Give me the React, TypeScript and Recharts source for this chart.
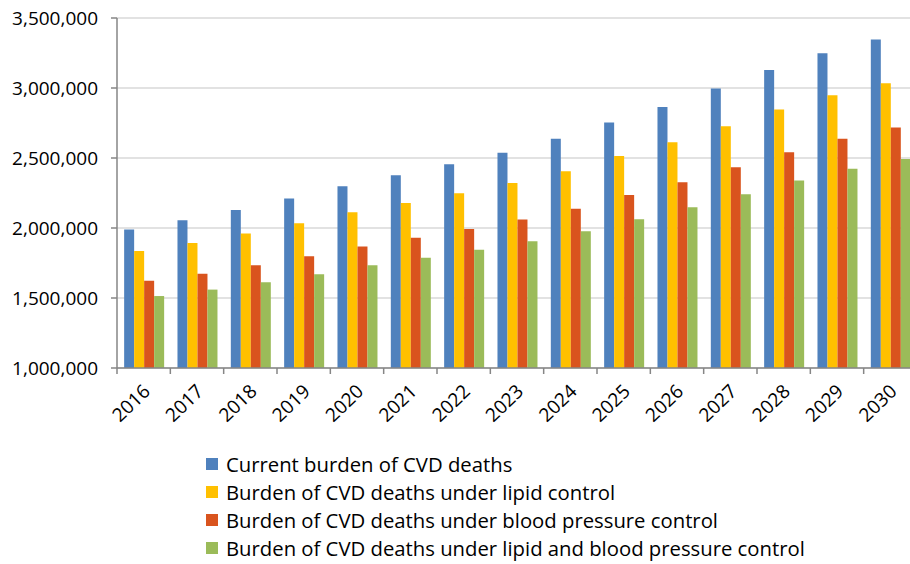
import { BarChart, Bar, XAxis, YAxis, CartesianGrid, Legend } from "recharts";

const years = ["2016", "2017", "2018", "2019", "2020", "2021", "2022", "2023", "2024", "2025", "2026", "2027", "2028", "2029", "2030"];
const current = [1990000, 2055000, 2129000, 2210000, 2298000, 2376000, 2455000, 2538000, 2638000, 2753000, 2864000, 2996000, 3129000, 3248000, 3346000];
const lipid = [1836000, 1893000, 1960000, 2034000, 2112000, 2179000, 2248000, 2321000, 2405000, 2514000, 2612000, 2726000, 2846000, 2948000, 3034000];
const bp = [1624000, 1674000, 1734000, 1798000, 1867000, 1931000, 1993000, 2060000, 2138000, 2236000, 2326000, 2434000, 2541000, 2638000, 2717000];
const both = [1514000, 1560000, 1612000, 1669000, 1734000, 1788000, 1845000, 1905000, 1976000, 2062000, 2148000, 2241000, 2339000, 2424000, 2493000];
const yTicks = [1000000, 1500000, 2000000, 2500000, 3000000, 3500000];

const series = [
  { key: "current", name: "Current burden of CVD deaths", color: "#4F81BD" },
  { key: "lipid", name: "Burden of CVD deaths under lipid control", color: "#FFC000" },
  { key: "bp", name: "Burden of CVD deaths under blood pressure control", color: "#D9541E" },
  { key: "both", name: "Burden of CVD deaths under lipid and blood pressure control", color: "#9BBB59" },
];

const data = years.map((y, i) => ({
  year: y,
  current: current[i],
  lipid: lipid[i],
  bp: bp[i],
  both: both[i],
}));

const FONT = "'Open Sans', 'Noto Sans', sans-serif";
const BAND = 800 / years.length;

function YearTick(props: any) {
  const { x, y, payload } = props;
  return (
    <g>
      <line x1={x - BAND / 2} x2={x - BAND / 2} y1={y - 8} y2={y - 2} stroke="#868686" strokeWidth={1.5} />
      <g transform={`translate(${x + 3},${y + 12})`}>
        <text transform="rotate(-44)" textAnchor="end" dy="0.35em" fontSize={19} fill="#000" fontFamily={FONT}>
          {payload.value}
        </text>
      </g>
    </g>
  );
}

function LegendBox() {
  return (
    <div style={{ fontFamily: FONT, fontSize: 20.3, color: "#000" }}>
      {series.map((s) => (
        <div key={s.key} style={{ display: "flex", alignItems: "center", height: 28 }}>
          <span style={{ width: 12, height: 12, background: s.color, marginRight: 8, display: "inline-block" }} />
          <span>{s.name}</span>
        </div>
      ))}
    </div>
  );
}

export default function App() {
  return (
    <div style={{ position: "absolute", left: 0, top: 0, width: 910, height: 564, overflow: "hidden", background: "#fff" }}>
      <BarChart
        width={940}
        height={564}
        data={data}
        margin={{ top: 18, right: 23, bottom: 0, left: 0 }}
        barCategoryGap="13.4%"
        barGap={0}
      >
        <CartesianGrid vertical={false} stroke="#D9D9D9" strokeWidth={1.5} />
        <XAxis
          dataKey="year"
          axisLine={{ stroke: "#868686", strokeWidth: 1.5 }}
          tickLine={false}
          tick={<YearTick />}
          interval={0}
          height={84}
        />
        <YAxis
          width={117}
          domain={[1000000, 3500000]}
          ticks={yTicks}
          allowDataOverflow
          axisLine={{ stroke: "#868686", strokeWidth: 1.5 }}
          tickLine={{ stroke: "#868686", strokeWidth: 1.5 }}
          tickSize={6}
          tickMargin={13}
          tickFormatter={(v: number) => v.toLocaleString("en-US")}
          tick={{ fontSize: 19, fill: "#000", fontFamily: FONT }}
        />
        <Legend
          content={<LegendBox />}
          wrapperStyle={{ position: "absolute", left: 206, top: 450, width: 700, height: 112 }}
        />
        {series.map((s) => (
          <Bar key={s.key} dataKey={s.key} name={s.name} fill={s.color} isAnimationActive={false} />
        ))}
      </BarChart>
    </div>
  );
}
